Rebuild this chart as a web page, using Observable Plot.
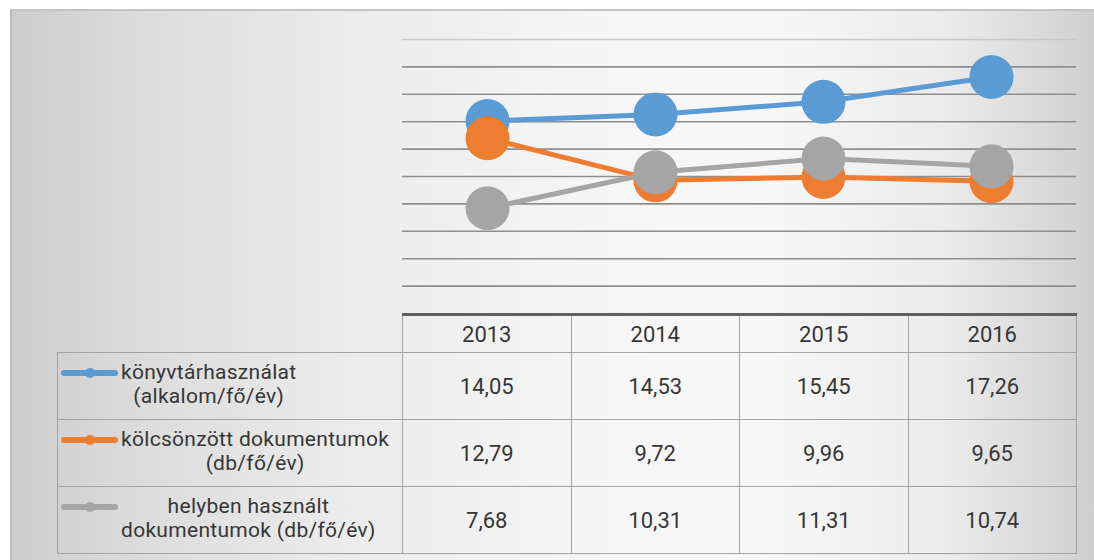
<!DOCTYPE html>
<html>
<head>
<meta charset="utf-8">
<script src="https://cdn.jsdelivr.net/npm/d3@7"></script>
<script src="https://cdn.jsdelivr.net/npm/@observablehq/plot@0.6"></script>
<style>
  html, body { margin: 0; padding: 0; background: #ffffff; }
  #wrap { position: relative; width: 1094px; height: 560px; overflow: hidden; }
  #bg {
    position: absolute; left: 10px; top: 9px; width: 1084px; height: 551px;
    background: linear-gradient(90deg, #cdcdcd 0%, #dcdcdc 12%, #ebebeb 30%, #f6f6f6 55%, #f7f7f7 70%, #ececec 86%, #d6d6d6 97%, #cfcfcf 100%);
    border-top: 2px solid #c4c4c4; border-left: 2px solid #bdbdbd; box-sizing: border-box;
  }
  #chart { position: absolute; left: 0; top: 0; }
  #tbl {
    position: absolute; left: 57px; top: 313px; border-collapse: collapse; table-layout: fixed;
    font-family: "Liberation Sans Narrow", "Arial Narrow", "Roboto", sans-serif; color: #363636;
  }
  #tbl td { border: 1px solid #a3a3a3; text-align: center; vertical-align: middle; padding: 0; font-size: 22px; }
  #tbl tr.head td { height: 36px; border-top: 3px solid #606060; }
  #tbl tr.head td.blank { border: none; border-right: 1px solid #a3a3a3; }
  #tbl tr.row td { height: 66px; }
  #tbl td.lab { text-align: left; padding-left: 3px; font-size: 21px; letter-spacing: 0.3px; }
  .labwrap { display: flex; align-items: flex-start; margin-top: -4px; }
  .key { flex: none; width: 57px; height: 24px; margin-right: 3px; }
  .labtext { display: inline-block; text-align: center; line-height: 24px; }
</style>
</head>
<body>
<div id="wrap">
  <div id="bg"></div>
  <div id="chart"></div>
  <table id="tbl"></table>
</div>
<script>
// ---- data ----
const years = ["2013", "2014", "2015", "2016"];
const seriesKonyvtar = [14.05, 14.53, 15.45, 17.26];
const seriesKolcson = [12.79, 9.72, 9.96, 9.65];
const seriesHelyben = [7.68, 10.31, 11.31, 10.74];
const seriesLabels = [
  ["könyvtárhasználat", "(alkalom/fő/év)"],
  ["kölcsönzött dokumentumok", "(db/fő/év)"],
  ["helyben használt", "dokumentumok (db/fő/év)"]
];
const seriesColors = ["#5b9bd5", "#ed7d31", "#a5a5a5"];
const gridValues = [2, 4, 6, 8, 10, 12, 14, 16, 18, 20];

const allSeries = [seriesKonyvtar, seriesKolcson, seriesHelyben];
const rows = allSeries.map((vals, i) => vals.map((v, j) => ({year: years[j], value: v, s: i})));

const marks = [
  Plot.ruleY(gridValues, {stroke: d => d === 20 ? "#c8c8c8" : "#8e8e8e", strokeWidth: 1.6})
];
rows.forEach((data, i) => {
  marks.push(Plot.line(data, {x: "year", y: "value", stroke: seriesColors[i], strokeWidth: 5}));
  marks.push(Plot.dot(data, {x: "year", y: "value", r: 22, fill: seriesColors[i], stroke: "none"}));
});

const plot = Plot.plot({
  width: 1094, height: 315,
  marginLeft: 402, marginRight: 18, marginTop: 39, marginBottom: 2,
  style: {background: "transparent", overflow: "visible"},
  x: {type: "point", domain: years, padding: 0.5, axis: null},
  y: {domain: [0, 20], axis: null},
  marks
});
document.getElementById("chart").appendChild(plot);

// ---- data table ----
const fmt = v => v.toFixed(2).replace(".", ",");
const tbl = document.getElementById("tbl");
const colg = document.createElement("colgroup");
[345, 168.5, 168.5, 168.5, 168.5].forEach(w => {
  const c = document.createElement("col"); c.style.width = w + "px"; colg.appendChild(c);
});
tbl.appendChild(colg);
tbl.style.width = (345 + 4 * 168.5) + "px";
const head = document.createElement("tr"); head.className = "head";
const blank = document.createElement("td"); blank.className = "blank"; head.appendChild(blank);
years.forEach(y => { const td = document.createElement("td"); td.textContent = y; head.appendChild(td); });
tbl.appendChild(head);

allSeries.forEach((vals, i) => {
  const tr = document.createElement("tr"); tr.className = "row";
  const lab = document.createElement("td"); lab.className = "lab";
  const wrap = document.createElement("div"); wrap.className = "labwrap";
  const key = d3.create("svg").attr("class", "key").attr("width", 57).attr("height", 24);
  key.append("line").attr("x1", 3).attr("x2", 54).attr("y1", 13).attr("y2", 13)
    .attr("stroke", seriesColors[i]).attr("stroke-width", 6).attr("stroke-linecap", "round");
  key.append("circle").attr("cx", 29).attr("cy", 13).attr("r", 5).attr("fill", seriesColors[i]);
  wrap.appendChild(key.node());
  const txt = document.createElement("span"); txt.className = "labtext";
  txt.innerHTML = seriesLabels[i].join("<br>");
  wrap.appendChild(txt);
  lab.appendChild(wrap);
  tr.appendChild(lab);
  vals.forEach(v => { const td = document.createElement("td"); td.textContent = fmt(v); tr.appendChild(td); });
  tbl.appendChild(tr);
});
</script>
</body>
</html>
